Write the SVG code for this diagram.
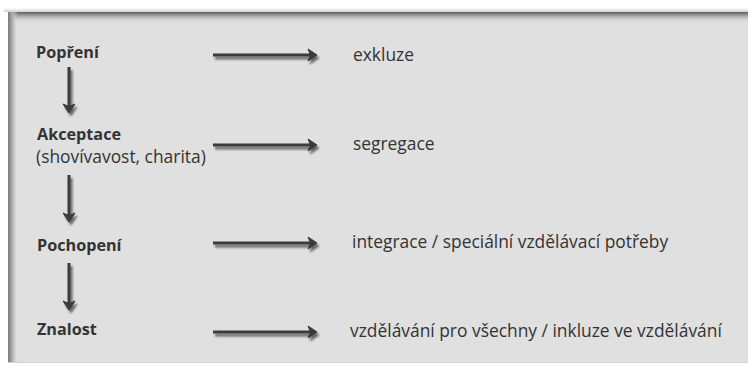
<svg xmlns="http://www.w3.org/2000/svg" width="748" height="366" viewBox="0 0 748 366">
  <style>
    .stage { font-family: "Open Sans", "Noto Sans", sans-serif; font-size: 17.4px; fill: #333333; }
    .lvl { font-family: "Open Sans", "Noto Sans", sans-serif; font-size: 16.2px; font-weight: bold; fill: #333333; }
    .conn { stroke: #3a3a3a; stroke-width: 3; fill: none; }
    .head { fill: #3a3a3a; stroke: #3a3a3a; stroke-width: 1; stroke-linejoin: round; }
  </style>
  <defs>
    <filter id="shadow" x="-20%" y="-40%" width="140%" height="200%">
      <feGaussianBlur in="SourceAlpha" stdDeviation="1.2"/>
      <feOffset dx="2" dy="3" result="blur"/>
      <feComponentTransfer><feFuncA type="linear" slope="0.55"/></feComponentTransfer>
      <feMerge><feMergeNode/><feMergeNode in="SourceGraphic"/></feMerge>
    </filter>
    <linearGradient id="topShade" x1="0" y1="0" x2="0" y2="1">
      <stop offset="0" stop-color="#5e5e5e"/>
      <stop offset="0.3" stop-color="#9c9c9c"/>
      <stop offset="1" stop-color="#e0e0e0" stop-opacity="0"/>
    </linearGradient>
    <linearGradient id="leftShade" x1="0" y1="0" x2="1" y2="0">
      <stop offset="0" stop-color="#7a7a7a"/>
      <stop offset="0.4" stop-color="#a8a8a8"/>
      <stop offset="1" stop-color="#e0e0e0" stop-opacity="0"/>
    </linearGradient>
    <linearGradient id="outerTop" x1="0" y1="0" x2="0" y2="1">
      <stop offset="0" stop-color="#ffffff"/>
      <stop offset="1" stop-color="#d0d0d0"/>
    </linearGradient>
  </defs>

  <rect x="0" y="0" width="748" height="366" fill="#ffffff"/>

  <!-- panel with inset shading -->
  <g id="panel">
    <rect x="4" y="8" width="744" height="4" fill="url(#outerTop)"/>
    <rect x="8" y="12" width="740" height="351" fill="#e0e0e0"/>
    <rect x="8" y="12" width="740" height="11" fill="url(#topShade)"/>
    <rect x="8" y="12" width="10" height="351" fill="url(#leftShade)"/>
    <rect x="8" y="362" width="740" height="1" fill="#d2d2d2"/>
  </g>

  <!-- left column: levels -->
  <g id="popreni"><text class="lvl" x="36" y="58">Popření</text></g>
  <g id="akceptace">
    <text class="lvl" x="37" y="140">Akceptace</text>
    <text class="stage" x="36" y="163">(shovívavost, charita)</text>
  </g>
  <g id="pochopeni"><text class="lvl" x="37" y="251">Pochopení</text></g>
  <g id="znalost"><text class="lvl" x="37" y="335">Znalost</text></g>

  <!-- right column: outcomes -->
  <g id="exkluze"><text class="stage" x="353" y="61">exkluze</text></g>
  <g id="segregace"><text class="stage" x="353" y="150">segregace</text></g>
  <g id="integrace"><text class="stage" x="352" y="248">integrace / speciální vzdělávací potřeby</text></g>
  <g id="inkluze"><text class="stage" x="350" y="337">vzdělávání pro všechny / inkluze ve vzdělávání</text></g>

  <!-- connectors -->
  <g id="connectors" filter="url(#shadow)">
    <!-- horizontal -->
    <line class="conn" x1="213" y1="55" x2="312" y2="55"/>
    <path class="head" d="M308,49 L317,55 L308,61 L310.5,55 Z"/>
    <line class="conn" x1="213" y1="145" x2="312" y2="145"/>
    <path class="head" d="M308,139 L317,145 L308,151 L310.5,145 Z"/>
    <line class="conn" x1="213" y1="243" x2="312" y2="243"/>
    <path class="head" d="M308,237 L317,243 L308,249 L310.5,243 Z"/>
    <line class="conn" x1="213" y1="332" x2="312" y2="332"/>
    <path class="head" d="M308,326 L317,332 L308,338 L310.5,332 Z"/>
    <!-- vertical -->
    <line class="conn" x1="69" y1="67" x2="69" y2="108"/>
    <path class="head" d="M63,104 L69,113 L75,104 L69,106.5 Z"/>
    <line class="conn" x1="69" y1="175" x2="69" y2="217"/>
    <path class="head" d="M63,213 L69,222 L75,213 L69,215.5 Z"/>
    <line class="conn" x1="69" y1="263" x2="69" y2="305"/>
    <path class="head" d="M63,301 L69,310 L75,301 L69,303.5 Z"/>
  </g>
</svg>
